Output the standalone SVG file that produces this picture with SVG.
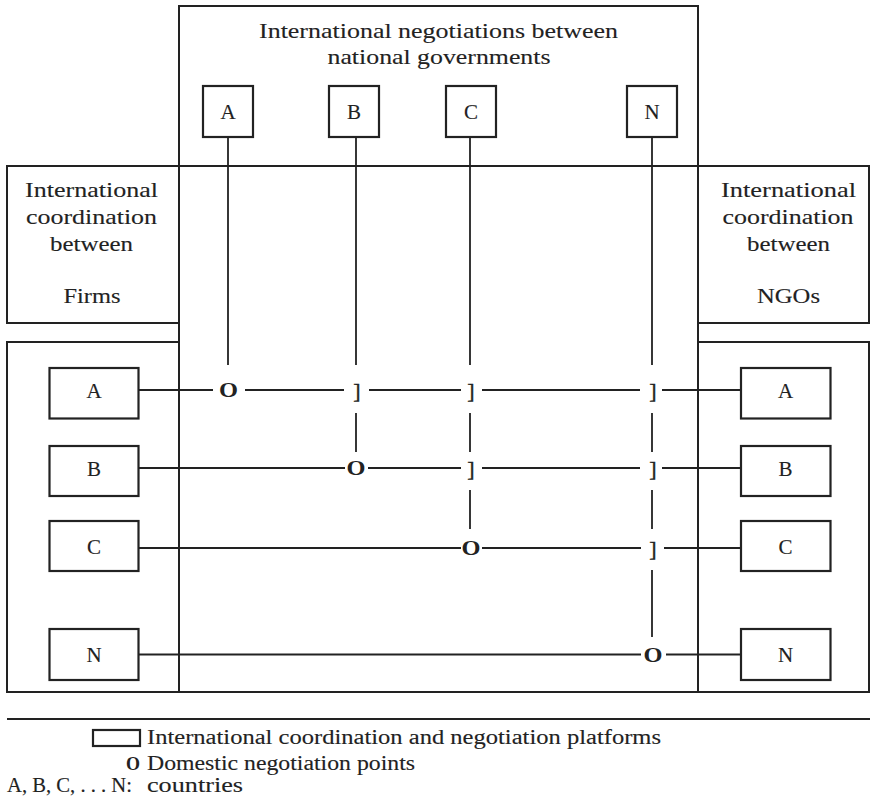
<svg xmlns="http://www.w3.org/2000/svg" width="870" height="800" viewBox="0 0 870 800">
<style>
  .box { fill: none; stroke: #222; stroke-width: 2.2; }
  .frame { fill: none; stroke: #222; stroke-width: 2; }
  .ln { stroke: #222; stroke-width: 1.8; fill: none; }
  .t { font-family: "Liberation Serif", "Times New Roman", serif; fill: #222; stroke: #222; stroke-width: 0.12; }
  .lbl { font-family: "Liberation Serif", "Times New Roman", serif; font-size: 21px; fill: #222; stroke: #222; stroke-width: 0.12; text-anchor: middle; }
  .o { font-family: "Liberation Serif", "Times New Roman", serif; font-size: 21px; font-weight: bold; fill: #222; text-anchor: middle; }
  .br { font-family: "Liberation Serif", "Times New Roman", serif; font-size: 22px; fill: #222; stroke: #222; stroke-width: 0.4; text-anchor: middle; }
</style>
<rect x="0" y="0" width="870" height="800" fill="#fff"/>

<g id="gov-platform">
  <rect class="frame" x="179" y="6" width="519" height="160"/>
  <text class="t" font-size="22" x="259" y="38" textLength="359" lengthAdjust="spacingAndGlyphs">International negotiations between</text>
  <text class="t" font-size="22" x="327.5" y="63.5" textLength="223" lengthAdjust="spacingAndGlyphs">national governments</text>
</g>
<g id="central-area">
  <rect class="frame" x="179" y="166" width="519" height="526"/>
</g>
<g id="firms-platform">
  <rect class="frame" x="7" y="166" width="172" height="157"/>
  <text class="t" font-size="21" x="25" y="197" textLength="133" lengthAdjust="spacingAndGlyphs">International</text>
  <text class="t" font-size="21" x="26" y="224" textLength="131" lengthAdjust="spacingAndGlyphs">coordination</text>
  <text class="t" font-size="21" x="50" y="251" textLength="83" lengthAdjust="spacingAndGlyphs">between</text>
  <text class="t" font-size="21" x="63.5" y="303" textLength="57" lengthAdjust="spacingAndGlyphs">Firms</text>
</g>
<g id="ngos-platform">
  <rect class="frame" x="698" y="166" width="171" height="157"/>
  <text class="t" font-size="21" x="721" y="197" textLength="135" lengthAdjust="spacingAndGlyphs">International</text>
  <text class="t" font-size="21" x="722.5" y="224" textLength="131" lengthAdjust="spacingAndGlyphs">coordination</text>
  <text class="t" font-size="21" x="747" y="251" textLength="83" lengthAdjust="spacingAndGlyphs">between</text>
  <text class="t" font-size="21" x="757" y="303" textLength="63" lengthAdjust="spacingAndGlyphs">NGOs</text>
</g>
<g id="firms-countries">
  <rect class="frame" x="7" y="342" width="172" height="350"/>
</g>
<g id="ngos-countries">
  <rect class="frame" x="698" y="342" width="171" height="350"/>
</g>

<g id="gov-A"><rect class="box" x="203" y="86" width="50" height="51"/><text class="lbl" x="228" y="119">A</text></g>
<g id="gov-B"><rect class="box" x="329" y="86" width="50" height="51"/><text class="lbl" x="354" y="119">B</text></g>
<g id="gov-C"><rect class="box" x="446" y="86" width="50" height="51"/><text class="lbl" x="471" y="119">C</text></g>
<g id="gov-N"><rect class="box" x="627" y="86" width="50" height="51"/><text class="lbl" x="652" y="119">N</text></g>

<g id="firm-A"><rect class="box" x="49.5" y="368" width="89" height="50.5"/><text class="lbl" x="94" y="397.5">A</text></g>
<g id="firm-B"><rect class="box" x="49.5" y="446" width="89" height="50"/><text class="lbl" x="94" y="476">B</text></g>
<g id="firm-C"><rect class="box" x="49.5" y="521" width="89" height="50"/><text class="lbl" x="94" y="553.5">C</text></g>
<g id="firm-N"><rect class="box" x="49.5" y="629" width="89" height="51"/><text class="lbl" x="94" y="662">N</text></g>

<g id="ngo-A"><rect class="box" x="741" y="368" width="89.5" height="50.5"/><text class="lbl" x="785.5" y="397.5">A</text></g>
<g id="ngo-B"><rect class="box" x="741" y="446" width="89.5" height="50"/><text class="lbl" x="785.5" y="476">B</text></g>
<g id="ngo-C"><rect class="box" x="741" y="521" width="89.5" height="50"/><text class="lbl" x="785.5" y="553.5">C</text></g>
<g id="ngo-N"><rect class="box" x="741" y="629" width="89.5" height="51"/><text class="lbl" x="785.5" y="662">N</text></g>

<g id="connectors">
  <path class="ln" d="M228 137V365 M356 137V365 M356 413V452 M470 137V365 M470 413V452 M470 490V529 M652 137V365 M652 413V452 M652 490V529 M652 570V637"/>
  <path class="ln" d="M138.5 390H213 M245 390H344 M369 390H461 M482 390H640 M662 390H741"/>
  <path class="ln" d="M138.5 468H345 M368 468H461 M482 468H640 M662 468H741"/>
  <path class="ln" d="M138.5 548H461 M482 548H641 M664 548H741"/>
  <path class="ln" d="M138.5 654.5H641 M666 654.5H741"/>
</g>
<g id="negotiation-points">
  <text class="o" x="228.5" y="397" textLength="19" lengthAdjust="spacingAndGlyphs">O</text>
  <text class="o" x="356" y="475" textLength="19" lengthAdjust="spacingAndGlyphs">O</text>
  <text class="o" x="471" y="555" textLength="19" lengthAdjust="spacingAndGlyphs">O</text>
  <text class="o" x="653" y="661.5" textLength="19" lengthAdjust="spacingAndGlyphs">O</text>
  <text class="br" x="357" y="397.5">]</text>
  <text class="br" x="471" y="397.5">]</text>
  <text class="br" x="653" y="397.5">]</text>
  <text class="br" x="471" y="475.5">]</text>
  <text class="br" x="653" y="475.5">]</text>
  <text class="br" x="653" y="555.5">]</text>
</g>

<g id="legend">
  <line class="ln" x1="7" y1="719" x2="870" y2="719"/>
  <rect class="box" x="93" y="730" width="47" height="16"/>
  <text class="t" font-size="20" x="147" y="743.5" textLength="514" lengthAdjust="spacingAndGlyphs">International coordination and negotiation platforms</text>
  <text class="o" style="font-size:19px" x="133" y="769.5" textLength="14" lengthAdjust="spacingAndGlyphs">O</text>
  <text class="t" font-size="20" x="147" y="769.5" textLength="268" lengthAdjust="spacingAndGlyphs">Domestic negotiation points</text>
  <text class="t" font-size="20" x="7" y="791.5" textLength="125" lengthAdjust="spacingAndGlyphs">A, B, C, . . . N:</text>
  <text class="t" font-size="20" x="147" y="791.5" textLength="96" lengthAdjust="spacingAndGlyphs">countries</text>
</g>
</svg>
